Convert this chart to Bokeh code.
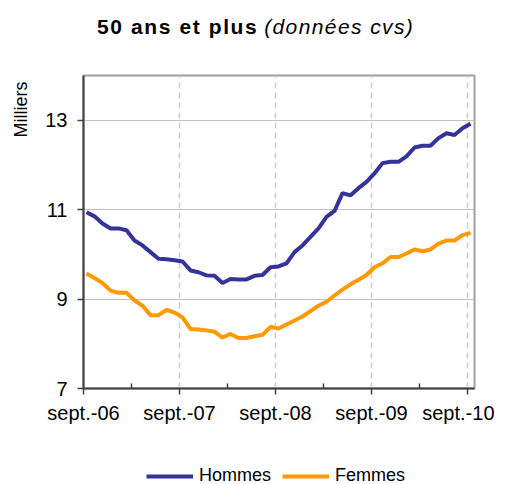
from bokeh.plotting import figure
from bokeh.layouts import column
from bokeh.models import FixedTicker, Range1d, Legend, LegendItem, Grid, Title, Div
from bokeh.embed import file_html
from bokeh.resources import INLINE

# ---- data (milliers), monthly from sept.-06 to sept.-10 ----
hommes = [10.94, 10.85, 10.69, 10.58, 10.58, 10.54, 10.31, 10.20, 10.05, 9.90,
          9.89, 9.87, 9.84, 9.64, 9.60, 9.53, 9.52, 9.36, 9.45, 9.44,
          9.44, 9.52, 9.54, 9.71, 9.73, 9.80, 10.05, 10.20, 10.39, 10.58,
          10.84, 10.97, 11.37, 11.32, 11.48, 11.62, 11.81, 12.04, 12.07, 12.07,
          12.19, 12.39, 12.43, 12.43, 12.60, 12.71, 12.67, 12.82, 12.92]
femmes = [9.57, 9.47, 9.36, 9.19, 9.14, 9.14, 8.97, 8.85, 8.64, 8.64,
          8.76, 8.70, 8.59, 8.33, 8.32, 8.30, 8.27, 8.14, 8.22, 8.13,
          8.13, 8.17, 8.20, 8.38, 8.34, 8.43, 8.52, 8.61, 8.73, 8.85,
          8.94, 9.08, 9.21, 9.33, 9.43, 9.54, 9.71, 9.80, 9.94, 9.94,
          10.02, 10.11, 10.07, 10.11, 10.24, 10.31, 10.31, 10.43, 10.48]
months = list(range(len(hommes)))
tick_labels = ["sept.-06", "sept.-07", "sept.-08", "sept.-09", "sept.-10"]
y_ticks = [7, 9, 11, 13]
series_names = ["Hommes", "Femmes"]
colors = ["#333399", "#FF9900"]
title_bold = "50 ans et plus"
title_italic = "(données cvs)"
y_label = "Milliers"

FONT = "Liberation Sans"
off = -0.375
major_x = [off + 12 * k for k in range(len(tick_labels))]
minor_x = [off + 6 + 12 * k for k in range(len(tick_labels) - 1)]

W = 494
TITLE_H = 55
LEG_H = 34
FIG_H = 484 - TITLE_H - LEG_H

# ---- title ----
title_div = Div(
    text=(f'<div style="padding-left:97px; font-family:\'{FONT}\'; font-size:21px; '
          f'line-height:{TITLE_H - 2}px; white-space:nowrap; color:black;">'
          f'<span style="font-weight:bold; letter-spacing:1.6px;">{title_bold}</span> '
          f'<span style="font-style:italic; letter-spacing:1.4px;">{title_italic}</span></div>'),
    width=W, height=TITLE_H, margin=0)

# ---- main chart ----
p = figure(width=W, height=FIG_H, output_backend="svg", toolbar_location=None,
           title=None,
           x_range=Range1d(off, 48.5), y_range=Range1d(7, 14),
           min_border_left=83, min_border_right=20, min_border_top=75 - TITLE_H,
           min_border_bottom=FIG_H - (388 - TITLE_H), margin=0)
p.background_fill_color = "white"
p.border_fill_color = "white"
p.outline_line_color = "#a0a0a0"
p.outline_line_width = 2

xa = p.xaxis[0]
xa.ticker = FixedTicker(ticks=major_x, minor_ticks=minor_x)
xa.major_label_overrides = {t: l for t, l in zip(major_x, tick_labels)}
xa.major_tick_out = 6
xa.major_tick_in = 0
xa.minor_tick_in = 5
xa.minor_tick_out = 0
xa.major_label_standoff = 7
ya = p.yaxis[0]
ya.ticker = FixedTicker(ticks=y_ticks)
ya.major_tick_out = 6
ya.major_tick_in = 0
ya.minor_tick_line_color = None
ya.major_label_standoff = 10
for ax in (xa, ya):
    ax.axis_line_color = "#404040"
    ax.axis_line_width = 2
    ax.major_tick_line_color = "#404040"
    ax.major_tick_line_width = 1.5
    ax.minor_tick_line_color = "#404040"
    ax.minor_tick_line_width = 1.5
    ax.major_label_text_font = FONT
    ax.major_label_text_font_size = "20px"
    ax.major_label_text_color = "black"

p.xgrid.grid_line_color = None
p.ygrid.grid_line_color = "#c0c0c0"
p.ygrid.grid_line_width = 1
p.ygrid.ticker = FixedTicker(ticks=y_ticks[1:])
vgrid = Grid(dimension=0, ticker=FixedTicker(ticks=major_x[1:]),
             grid_line_color="#cfcfcf", grid_line_width=1.5, grid_line_dash="6 4")
p.add_layout(vgrid)

for vals, c in zip([hommes, femmes], colors):
    p.line(months, vals, line_color=c, line_width=4)

# y label at the top of the left side
p.add_layout(Title(text=y_label, align="right", vertical_align="top", offset=6,
                   standoff=20, text_font=FONT, text_font_size="18px",
                   text_font_style="normal", text_color="black"), "left")

# ---- legend strip (frame aligned with the chart's frame by the column) ----
pl = figure(width=W, height=LEG_H, output_backend="svg", toolbar_location=None,
            title=None, x_axis_location=None, y_axis_location=None,
            x_range=Range1d(0, 1), y_range=Range1d(0, 1),
            min_border=0, min_border_left=0, min_border_right=0,
            min_border_top=0, min_border_bottom=0, margin=0)
pl.outline_line_color = None
pl.grid.visible = False
# legend proxies, kept outside the visible range
proxies = [pl.line([-2, -1], [-2, -2], line_color=c, line_width=4) for c in colors]
legend = Legend(items=[LegendItem(label=n, renderers=[r]) for n, r in zip(series_names, proxies)],
                orientation="horizontal", location=(63, -2),
                glyph_width=47, glyph_height=16, label_height=16,
                label_standoff=6, spacing=11, padding=0, margin=0,
                label_text_font=FONT, label_text_font_size="18px",
                label_text_color="black",
                border_line_color=None, background_fill_alpha=0)
pl.add_layout(legend)

layout = column(title_div, p, pl, spacing=0, margin=0)
open("out.html", "w").write(file_html(layout, INLINE))
